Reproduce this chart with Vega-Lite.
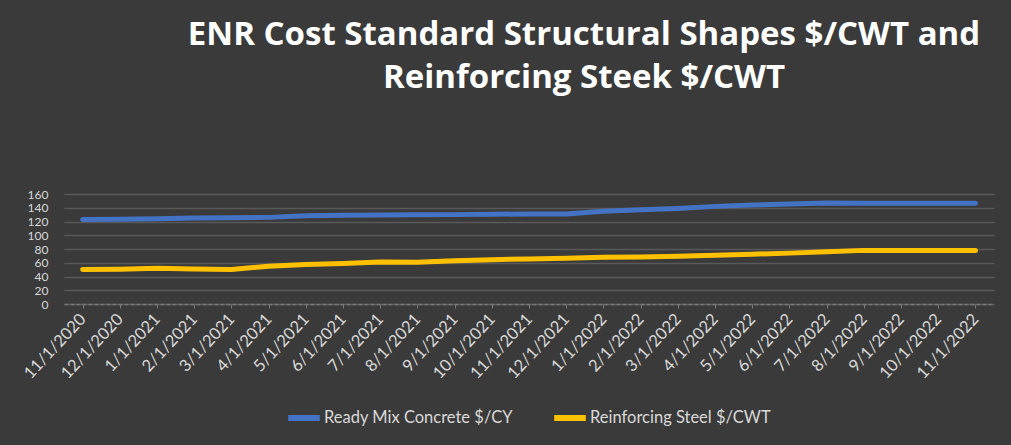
{
  "$schema": "https://vega.github.io/schema/vega-lite/v6.json",
  "autosize": {"type": "none"},
  "width": 930,
  "height": 110,
  "padding": {"left": 64, "top": 194, "right": 17, "bottom": 141},
  "background": "#3a3a3a",
  "title": {
    "text": ["ENR Cost Standard Structural Shapes $/CWT and", "Reinforcing Steek $/CWT"],
    "anchor": "middle",
    "frame": "group",
    "dx": 55,
    "offset": 93,
    "font": "Open Sans",
    "fontSize": 33,
    "fontWeight": "bold",
    "color": "#ffffff",
    "lineHeight": 43
  },
  "data": {
    "values": [
      {"date": "11/1/2020", "series": "Ready Mix Concrete $/CY", "value": 123},
      {"date": "12/1/2020", "series": "Ready Mix Concrete $/CY", "value": 123.3},
      {"date": "1/1/2021", "series": "Ready Mix Concrete $/CY", "value": 124},
      {"date": "2/1/2021", "series": "Ready Mix Concrete $/CY", "value": 125},
      {"date": "3/1/2021", "series": "Ready Mix Concrete $/CY", "value": 125.5},
      {"date": "4/1/2021", "series": "Ready Mix Concrete $/CY", "value": 126},
      {"date": "5/1/2021", "series": "Ready Mix Concrete $/CY", "value": 128.5},
      {"date": "6/1/2021", "series": "Ready Mix Concrete $/CY", "value": 129},
      {"date": "7/1/2021", "series": "Ready Mix Concrete $/CY", "value": 129.5},
      {"date": "8/1/2021", "series": "Ready Mix Concrete $/CY", "value": 129.7},
      {"date": "9/1/2021", "series": "Ready Mix Concrete $/CY", "value": 130},
      {"date": "10/1/2021", "series": "Ready Mix Concrete $/CY", "value": 130.5},
      {"date": "11/1/2021", "series": "Ready Mix Concrete $/CY", "value": 131},
      {"date": "12/1/2021", "series": "Ready Mix Concrete $/CY", "value": 131},
      {"date": "1/1/2022", "series": "Ready Mix Concrete $/CY", "value": 135},
      {"date": "2/1/2022", "series": "Ready Mix Concrete $/CY", "value": 137},
      {"date": "3/1/2022", "series": "Ready Mix Concrete $/CY", "value": 139},
      {"date": "4/1/2022", "series": "Ready Mix Concrete $/CY", "value": 142},
      {"date": "5/1/2022", "series": "Ready Mix Concrete $/CY", "value": 144},
      {"date": "6/1/2022", "series": "Ready Mix Concrete $/CY", "value": 145.5},
      {"date": "7/1/2022", "series": "Ready Mix Concrete $/CY", "value": 147},
      {"date": "8/1/2022", "series": "Ready Mix Concrete $/CY", "value": 146.5},
      {"date": "9/1/2022", "series": "Ready Mix Concrete $/CY", "value": 146.5},
      {"date": "10/1/2022", "series": "Ready Mix Concrete $/CY", "value": 146.5},
      {"date": "11/1/2022", "series": "Ready Mix Concrete $/CY", "value": 146.5},
      {"date": "11/1/2020", "series": "Reinforcing Steel $/CWT", "value": 50.2},
      {"date": "12/1/2020", "series": "Reinforcing Steel $/CWT", "value": 50.7},
      {"date": "1/1/2021", "series": "Reinforcing Steel $/CWT", "value": 52},
      {"date": "2/1/2021", "series": "Reinforcing Steel $/CWT", "value": 51},
      {"date": "3/1/2021", "series": "Reinforcing Steel $/CWT", "value": 50.2},
      {"date": "4/1/2021", "series": "Reinforcing Steel $/CWT", "value": 55},
      {"date": "5/1/2021", "series": "Reinforcing Steel $/CWT", "value": 57.5},
      {"date": "6/1/2021", "series": "Reinforcing Steel $/CWT", "value": 59},
      {"date": "7/1/2021", "series": "Reinforcing Steel $/CWT", "value": 61},
      {"date": "8/1/2021", "series": "Reinforcing Steel $/CWT", "value": 60.8},
      {"date": "9/1/2021", "series": "Reinforcing Steel $/CWT", "value": 63},
      {"date": "10/1/2021", "series": "Reinforcing Steel $/CWT", "value": 64.5},
      {"date": "11/1/2021", "series": "Reinforcing Steel $/CWT", "value": 65.5},
      {"date": "12/1/2021", "series": "Reinforcing Steel $/CWT", "value": 66.5},
      {"date": "1/1/2022", "series": "Reinforcing Steel $/CWT", "value": 68},
      {"date": "2/1/2022", "series": "Reinforcing Steel $/CWT", "value": 68.5},
      {"date": "3/1/2022", "series": "Reinforcing Steel $/CWT", "value": 69.5},
      {"date": "4/1/2022", "series": "Reinforcing Steel $/CWT", "value": 71},
      {"date": "5/1/2022", "series": "Reinforcing Steel $/CWT", "value": 72.5},
      {"date": "6/1/2022", "series": "Reinforcing Steel $/CWT", "value": 74},
      {"date": "7/1/2022", "series": "Reinforcing Steel $/CWT", "value": 76},
      {"date": "8/1/2022", "series": "Reinforcing Steel $/CWT", "value": 78},
      {"date": "9/1/2022", "series": "Reinforcing Steel $/CWT", "value": 78},
      {"date": "10/1/2022", "series": "Reinforcing Steel $/CWT", "value": 78},
      {"date": "11/1/2022", "series": "Reinforcing Steel $/CWT", "value": 78}
    ]
  },
  "mark": {"type": "line", "strokeWidth": 5, "strokeCap": "round", "strokeJoin": "round"},
  "encoding": {
    "x": {
      "field": "date",
      "type": "ordinal",
      "sort": null,
      "scale": {"type": "point", "padding": 0.5},
      "axis": {
        "title": null,
        "labelAngle": 313,
        "labelAlign": "right",
        "labelBaseline": "middle",
        "labelFont": "Lato",
        "labelFontSize": 16.5,
        "labelColor": "#d9d9d9",
        "labelPadding": 8,
        "labelOverlap": false,
        "domainColor": "#7a7a7a",
        "domainDash": [4, 2],
        "domainWidth": 1.5,
        "tickColor": "#7a7a7a",
        "tickSize": 4,
        "grid": false
      }
    },
    "y": {
      "field": "value",
      "type": "quantitative",
      "scale": {"domain": [0, 160], "nice": false},
      "axis": {
        "title": null,
        "values": [0, 20, 40, 60, 80, 100, 120, 140, 160],
        "labelOverlap": false,
        "labelFont": "Lato",
        "labelFontSize": 12,
        "labelColor": "#d9d9d9",
        "labelPadding": 16,
        "ticks": false,
        "domain": false,
        "gridColor": "#595959",
        "gridWidth": 1.5
      }
    },
    "color": {
      "field": "series",
      "type": "nominal",
      "scale": {
        "domain": ["Ready Mix Concrete $/CY", "Reinforcing Steel $/CWT"],
        "range": ["#4472c4", "#ffc000"]
      },
      "legend": {
        "title": null,
        "orient": "none",
        "direction": "horizontal",
        "legendX": 221,
        "legendY": 205,
        "symbolType": "stroke",
        "symbolSize": 1000,
        "symbolStrokeWidth": 6,
        "labelFont": "Lato",
        "labelFontSize": 16.5,
        "labelLimit": 0,
        "labelColor": "#d9d9d9",
        "labelOffset": 1,
        "columnPadding": 29
      }
    }
  },
  "config": {"view": {"stroke": null}}
}
